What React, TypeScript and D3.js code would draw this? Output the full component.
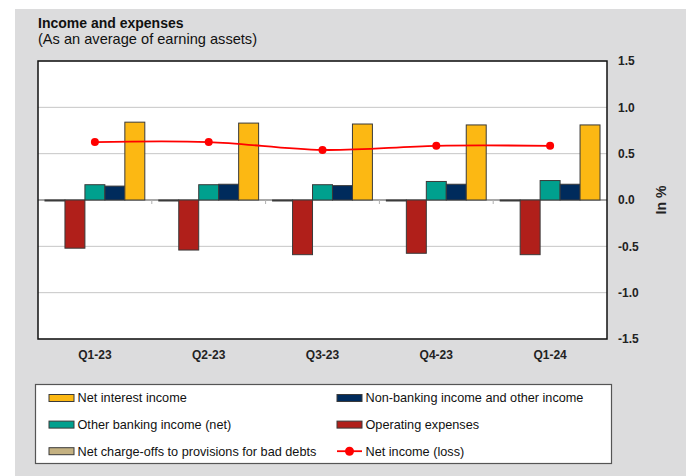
import React from 'react'
import * as d3 from 'd3'

const categories = ['Q1-23', 'Q2-23', 'Q3-23', 'Q4-23', 'Q1-24']
const netChargeOffs = [-0.01, -0.01, -0.01, -0.01, -0.01]
const operatingExpenses = [-0.52, -0.54, -0.59, -0.575, -0.59]
const otherBankingIncome = [0.165, 0.165, 0.165, 0.2, 0.21]
const nonBankingIncome = [0.15, 0.17, 0.155, 0.17, 0.17]
const netInterestIncome = [0.84, 0.83, 0.82, 0.81, 0.81]
const netIncome = [0.625, 0.625, 0.54, 0.585, 0.585]
const yTicks = [-1.5, -1.0, -0.5, 0.0, 0.5, 1.0, 1.5]

// bar order inside a quarter, left to right
const barSeries = [
  { name: 'Net charge-offs to provisions for bad debts', values: netChargeOffs, color: '#c4b181' },
  { name: 'Operating expenses', values: operatingExpenses, color: '#b01f1a' },
  { name: 'Other banking income (net)', values: otherBankingIncome, color: '#00a08e' },
  { name: 'Non-banking income and other income', values: nonBankingIncome, color: '#002b5c' },
  { name: 'Net interest income', values: netInterestIncome, color: '#fcb813' },
]

// legend order as in the reference (two columns)
const legendItems = [
  { name: 'Net interest income', color: '#fcb813' },
  { name: 'Non-banking income and other income', color: '#002b5c' },
  { name: 'Other banking income (net)', color: '#00a08e' },
  { name: 'Operating expenses', color: '#b01f1a' },
  { name: 'Net charge-offs to provisions for bad debts', color: '#c4b181' },
  { name: 'Net income (loss)', color: '#ff0000', line: true },
]

const W = 686, H = 476
const plot = { left: 38, right: 607, top: 61, bottom: 339 }
const font = 'Liberation Sans, Arial, sans-serif'

export default function App() {
  const x = d3.scaleBand().domain(categories).range([plot.left, plot.right])
  const xInner = d3.scaleBand()
    .domain(barSeries.map(s => s.name))
    .range([0, x.bandwidth()])
    .paddingInner(0)
    .paddingOuter(0.35)
  const y = d3.scaleLinear().domain([-1.5, 1.5]).range([plot.bottom, plot.top])

  const line = d3.line<number>()
    .x((_, i) => x(categories[i])! + x.bandwidth() / 2)
    .y(d => y(d))
    .curve(d3.curveCatmullRom.alpha(0.5))

  return (
    <svg width={W} height={H} style={{ position: 'absolute', left: 0, top: 0 }} fontFamily={font}>
      <rect x={15} y={9} width={W - 15} height={H - 9} fill="#dcdcdd" />

      <text x={38} y={28} fontSize={14} fontWeight="bold" fill="#111">Income and expenses</text>
      <text x={38} y={44} fontSize={14.6} fill="#111">(As an average of earning assets)</text>

      <rect x={plot.left} y={plot.top} width={plot.right - plot.left} height={plot.bottom - plot.top} fill="#fff" />

      {yTicks.filter(t => t !== 0).map(t => (
        <line key={t} x1={plot.left} x2={plot.right} y1={y(t)} y2={y(t)} stroke="#c6c6c6" strokeWidth={1} />
      ))}

      {/* zero axis and category ticks */}
      <line x1={plot.left} x2={plot.right} y1={y(0)} y2={y(0)} stroke="#a8a8a8" strokeWidth={2} />
      {categories.slice(1).map(c => (
        <line key={c} x1={x(c)} x2={x(c)} y1={y(0)} y2={y(0) + 4} stroke="#b0b0b0" strokeWidth={1} />
      ))}

      {categories.map((c, i) => (
        <g key={c} transform={`translate(${x(c)},0)`}>
          {barSeries.map(s => {
            const v = s.values[i]
            return (
              <rect key={s.name}
                x={xInner(s.name)}
                y={Math.min(y(v), y(0))}
                width={xInner.bandwidth()}
                height={Math.max(1, Math.abs(y(v) - y(0)))}
                fill={s.color}
                stroke="#3a3a3a"
                strokeWidth={1} />
            )
          })}
        </g>
      ))}

      <path d={line(netIncome) ?? ''} fill="none" stroke="#ff0000" strokeWidth={1.8} />
      {netIncome.map((v, i) => (
        <circle key={i} cx={x(categories[i])! + x.bandwidth() / 2} cy={y(v)} r={4} fill="#ff0000" />
      ))}

      <rect x={plot.left} y={plot.top} width={plot.right - plot.left} height={plot.bottom - plot.top}
        fill="none" stroke="#111" strokeWidth={1.5} />

      {yTicks.map(t => (
        <text key={t} x={618} y={y(t)} dy="0.35em" fontSize={12} fontWeight="bold" fill="#222">
          {t.toFixed(1)}
        </text>
      ))}
      <text transform={`translate(666,${y(0)}) rotate(-90)`} textAnchor="middle" fontSize={14}
        fontWeight="bold" fill="#222">In %</text>

      {categories.map(c => (
        <text key={c} x={x(c)! + x.bandwidth() / 2} y={355} dy="0.35em" textAnchor="middle"
          fontSize={12} fontWeight="bold" fill="#222">{c}</text>
      ))}

      {/* legend */}
      <rect x={35.5} y={384.5} width={576} height={79} fill="#fff" stroke="#555" strokeWidth={1.2} />
      {legendItems.map((item, i) => {
        const col = i % 2, row = Math.floor(i / 2)
        const sx = col === 0 ? 49 : 337
        const cy = 398 + row * 26.6
        return (
          <g key={item.name}>
            {item.line ? (
              <g>
                <line x1={sx} x2={sx + 25} y1={cy} y2={cy} stroke={item.color} strokeWidth={1.8} />
                <circle cx={sx + 12.5} cy={cy} r={4.5} fill={item.color} />
              </g>
            ) : (
              <rect x={sx} y={cy - 3.5} width={25} height={7} fill={item.color} stroke="#3a3a3a" strokeWidth={1} />
            )}
            <text x={sx + 28.5} y={cy} dy="0.35em" fontSize={12.7} fill="#111">{item.name}</text>
          </g>
        )
      })}
    </svg>
  )
}
